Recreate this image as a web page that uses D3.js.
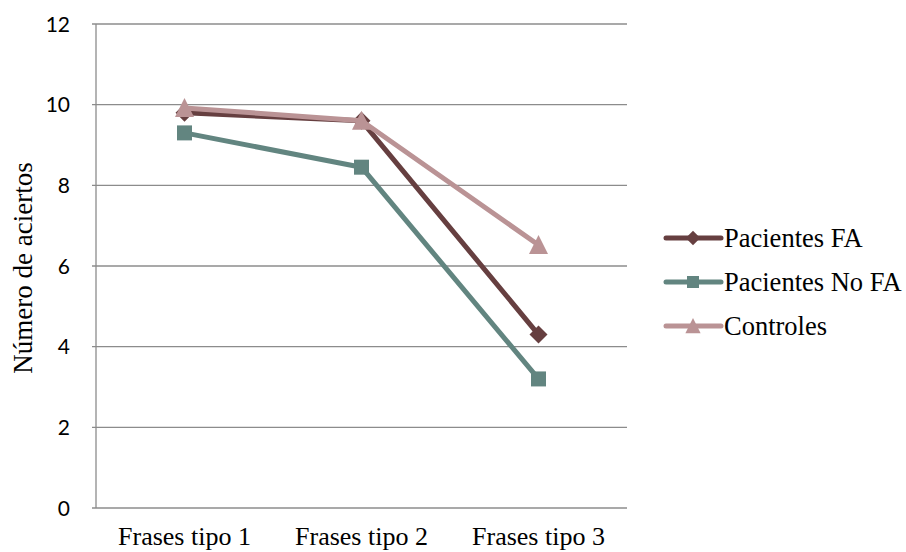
<!DOCTYPE html>
<html>
<head>
<meta charset="utf-8">
<script src="https://cdn.jsdelivr.net/npm/d3@7"></script>
<style>
  html, body { margin: 0; padding: 0; background: #fff; }
  svg { display: block; }
</style>
</head>
<body>
<svg id="chart" width="906" height="552"></svg>
<script>
// Categories and series values
const categories = ["Frases tipo 1", "Frases tipo 2", "Frases tipo 3"];
const pacientesFA = [9.8, 9.6, 4.3];
const pacientesNoFA = [9.3, 8.45, 3.2];
const controles = [9.92, 9.6, 6.52];
const yTicks = [0, 2, 4, 6, 8, 10, 12];
const seriesNames = ["Pacientes FA", "Pacientes No FA", "Controles"];

// Marker shapes (r = half-size in px)
const diamond = r => `M0,${-r}L${r},0L0,${r}L${-r},0Z`;
const square = r => `M${-r},${-r}H${r}V${r}H${-r}Z`;
const triangle = r => `M0,${-r * 1.05}L${r},${r * 0.95}L${-r},${r * 0.95}Z`;

const series = [
  { name: seriesNames[0], values: pacientesFA, color: "#663F40", shape: diamond, r: 9 },
  { name: seriesNames[1], values: pacientesNoFA, color: "#628580", shape: square, r: 7.5 },
  { name: seriesNames[2], values: controles, color: "#BA9395", shape: triangle, r: 9.5 }
];

const serif = "'Liberation Serif', 'Times New Roman', Times, serif";

const svg = d3.select("#chart");
const plot = { left: 96, right: 627, top: 24, bottom: 508 };

const x = d3.scaleBand().domain(categories).range([plot.left, plot.right]);
const y = d3.scaleLinear().domain([0, 12]).range([plot.bottom, plot.top]);
const cx = c => x(c) + x.bandwidth() / 2;

// Horizontal gridlines
svg.append("g")
  .selectAll("line")
  .data(yTicks)
  .join("line")
  .attr("x1", plot.left - 4)
  .attr("x2", plot.right)
  .attr("y1", d => y(d))
  .attr("y2", d => y(d))
  .attr("stroke", "#8c8c8c")
  .attr("stroke-width", 1.3);

// Left axis line
svg.append("line")
  .attr("x1", plot.left).attr("x2", plot.left)
  .attr("y1", plot.top).attr("y2", plot.bottom)
  .attr("stroke", "#8c8c8c").attr("stroke-width", 1.3);

// Y tick labels
svg.append("g")
  .selectAll("text")
  .data(yTicks)
  .join("text")
  .attr("x", 70)
  .attr("y", d => y(d))
  .attr("dy", "0.36em")
  .attr("text-anchor", "end")
  .attr("font-family", "Lato, 'Open Sans', sans-serif")
  .attr("font-size", 21)
  .attr("fill", "#000")
  .text(d => d);

// X category labels
svg.append("g")
  .selectAll("text")
  .data(categories)
  .join("text")
  .attr("x", d => cx(d))
  .attr("y", 545)
  .attr("text-anchor", "middle")
  .attr("font-family", serif)
  .attr("font-size", 26)
  .attr("fill", "#000")
  .text(d => d);

// Y axis title
svg.append("text")
  .attr("transform", `translate(32, 268) rotate(-90)`)
  .attr("text-anchor", "middle")
  .attr("font-family", serif)
  .attr("font-size", 27)
  .attr("fill", "#000")
  .text("Número de aciertos");

// Lines and markers
const line = d3.line()
  .x((d, i) => cx(categories[i]))
  .y(d => y(d));

const seriesG = svg.append("g");
series.forEach(s => {
  const g = seriesG.append("g");
  g.append("path")
    .datum(s.values)
    .attr("d", line)
    .attr("fill", "none")
    .attr("stroke", s.color)
    .attr("stroke-width", 5)
    .attr("stroke-linejoin", "round");
  g.selectAll("path.marker")
    .data(s.values)
    .join("path")
    .attr("class", "marker")
    .attr("transform", (d, i) => `translate(${cx(categories[i])}, ${y(d)})`)
    .attr("d", s.shape(s.r))
    .attr("fill", s.color);
});

// Legend
const legend = svg.append("g");
const legendY = [238, 282, 326];
series.forEach((s, i) => {
  const g = legend.append("g").attr("transform", `translate(0, ${legendY[i]})`);
  g.append("line")
    .attr("x1", 666).attr("x2", 721)
    .attr("y1", 0).attr("y2", 0)
    .attr("stroke", s.color).attr("stroke-width", 5)
    .attr("stroke-linecap", "round");
  g.append("path")
    .attr("transform", "translate(693, 0)")
    .attr("d", s.shape(s.r * 0.8))
    .attr("fill", s.color);
  g.append("text")
    .attr("x", 724)
    .attr("y", 0)
    .attr("dy", "0.33em")
    .attr("font-family", serif)
    .attr("font-size", 26.5)
    .attr("fill", "#000")
    .text(s.name);
});
</script>
</body>
</html>
